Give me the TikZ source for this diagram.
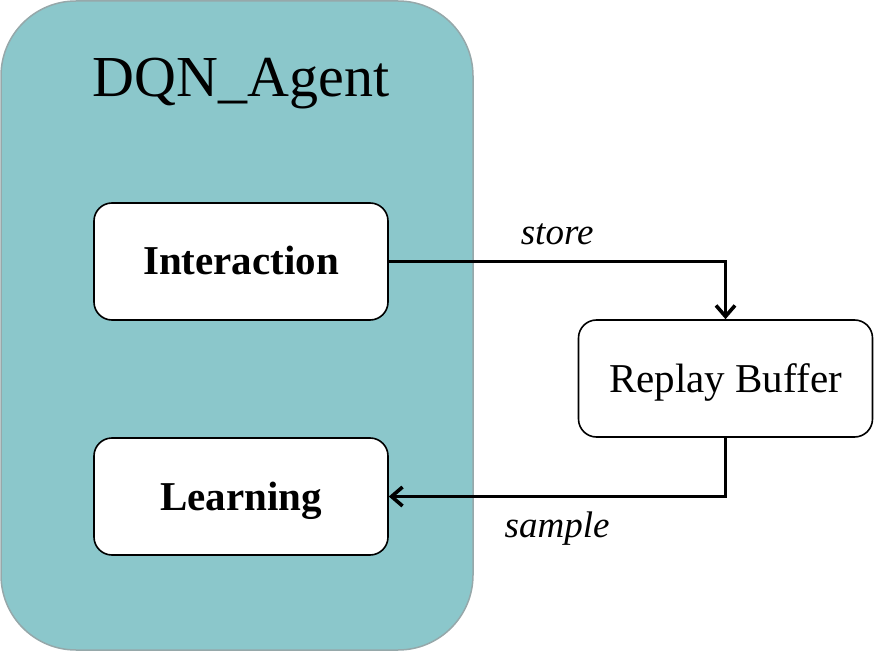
\documentclass[tikz,border=0pt]{standalone}
\usepackage{fontspec}
\setmainfont{Liberation Serif}
\usetikzlibrary{arrows.meta}
\definecolor{agentfill}{RGB}{139,199,203}
\definecolor{agentline}{RGB}{150,168,170}
\begin{document}
\begin{tikzpicture}[x=1pt,y=-1pt,
  box/.style={draw,line width=1.6pt,rounded corners=18pt,fill=white,
    minimum width=294pt,minimum height=117pt,inner sep=0pt,
    text height=27pt,text depth=0pt,
    font=\fontsize{41}{49}\selectfont},
  flow/.style={line width=3.6pt,-{Straight Barb[length=11pt,width=19pt,line width=3.6pt]}},
  lbl/.style={font=\fontsize{37}{44}\selectfont\itshape}]
\useasboundingbox (0,0) rectangle (875,652);
\node[draw=agentline,fill=agentfill,line width=1.5pt,rounded corners=75pt,
  minimum width=472pt,minimum height=649pt](agent) at (237,325.5) {};
\node[font=\fontsize{58}{70}\selectfont,text height=38pt,text depth=0pt,
  inner sep=0pt](title) at (241,77.5) {DQN\_Agent};
\node[box](inter) at (241,261.5) {\bfseries Interaction};
\node[box](learn) at (241,496.5) {\bfseries Learning};
\node[box](buffer) at (725.5,378.5) {Replay Buffer};
\draw[flow] (inter.east) -| node[lbl,pos=0.25,above=12pt]{store} (buffer.north);
\draw[flow] (buffer.south) |- node[lbl,pos=0.75,below=10pt]{sample} (learn.east);
\end{tikzpicture}
\end{document}
